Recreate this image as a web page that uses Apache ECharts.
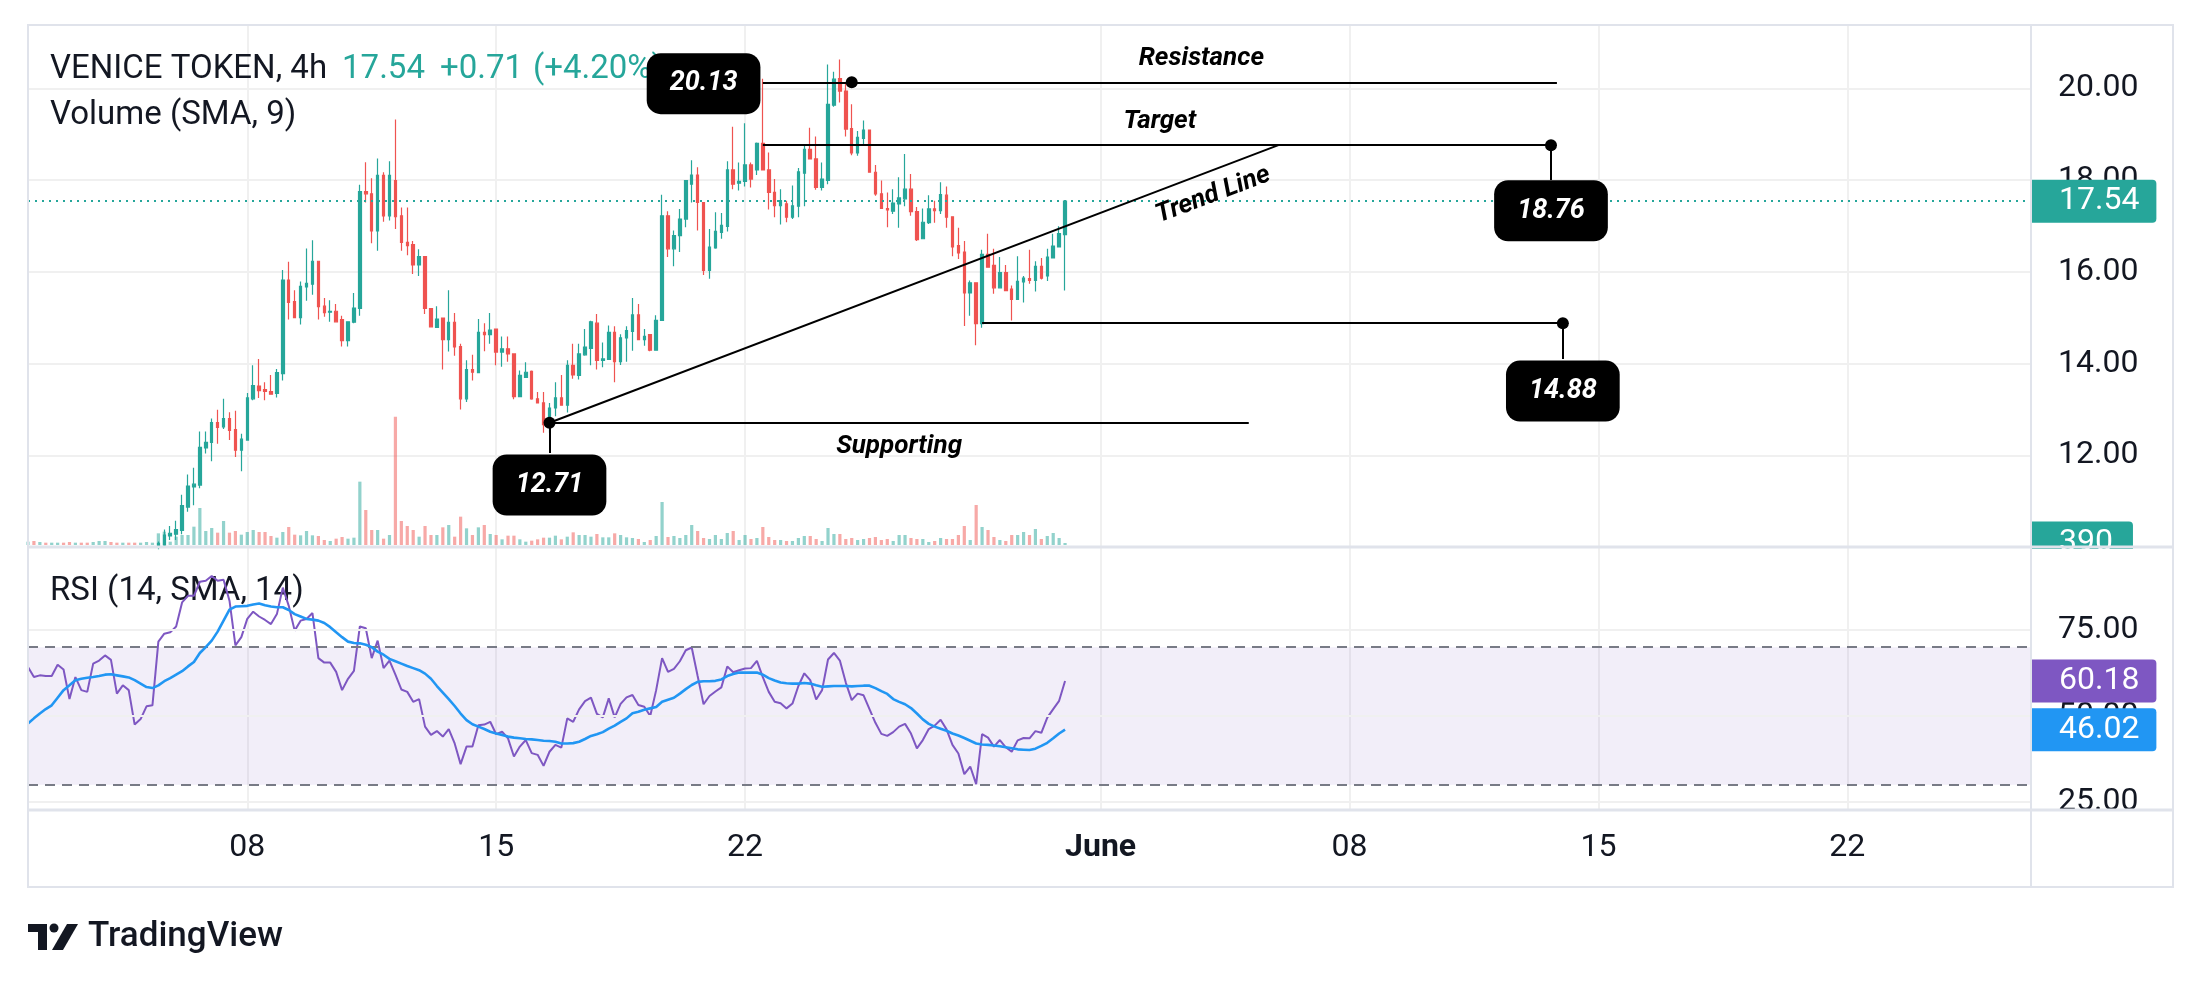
<!DOCTYPE html>
<html>
<head>
<meta charset="utf-8">
<script src="https://cdn.jsdelivr.net/npm/echarts@6/dist/echarts.min.js"></script>
<style>
html,body{margin:0;padding:0;background:#fff;}
#chart{width:2201px;height:982px;}
</style>
</head>
<body>
<div id="chart"></div>
<script>
// ---------- DATA ----------
const startTime = Date.UTC(2025, 4, 1, 20, 0);   // first 4h slot
const slotCount = 339;                             // visible 4h slots on the time axis

// candles: [open, high, low, close]
const candles = [
[9.42,9.55,9.38,9.48],[9.48,9.56,9.40,9.44],[9.44,9.57,9.41,9.50],[9.50,9.55,9.42,9.46],[9.46,9.54,9.43,9.49],
[9.49,9.58,9.45,9.52],[9.52,9.56,9.44,9.47],[9.47,9.50,9.36,9.41],[9.41,9.51,9.38,9.46],[9.46,9.49,9.40,9.43],
[9.43,9.47,9.35,9.40],[9.40,9.52,9.37,9.47],[9.47,9.62,9.44,9.56],[9.56,9.70,9.52,9.63],[9.63,9.68,9.53,9.57],
[9.57,9.61,9.50,9.54],[9.54,9.65,9.51,9.60],[9.60,9.64,9.53,9.57],[9.57,9.61,9.51,9.55],[9.55,9.67,9.52,9.62],
[9.62,9.76,9.58,9.70],[9.70,9.85,9.66,9.78],
[10.03,10.12,9.95,10.08],[10.04,10.38,10.00,10.26],[10.24,10.46,10.15,10.30],[10.28,10.57,10.15,10.38],
[10.36,11.14,10.28,10.90],[10.87,11.58,10.77,11.33],[11.31,11.73,10.91,11.37],[11.35,12.52,11.28,12.17],
[12.16,12.52,12.04,12.28],[12.28,12.80,11.87,12.71],[12.71,12.99,12.25,12.61],[12.62,13.23,12.57,12.80],
[12.80,12.94,12.33,12.54],[12.56,12.97,11.96,12.11],[12.11,12.47,11.65,12.35],[12.33,13.36,12.33,13.25],
[13.23,13.96,13.20,13.52],[13.51,14.10,13.25,13.41],[13.43,13.59,13.20,13.39],[13.39,13.75,13.32,13.33],
[13.35,13.88,13.26,13.80],[13.78,16.04,13.63,15.82],[15.82,16.22,14.96,15.33],[15.35,15.60,15.00,15.00],
[15.00,15.79,14.85,15.68],[15.67,16.51,15.37,15.75],[15.73,16.69,15.50,16.23],[16.23,16.23,14.96,15.24],
[15.25,15.43,15.02,15.11],[15.12,15.38,14.91,15.14],[15.14,15.30,14.91,14.91],[14.96,15.04,14.37,14.50],
[14.50,14.91,14.37,14.91],[14.90,15.54,14.88,15.21],[15.20,17.90,15.04,17.75],[17.75,18.39,17.51,17.70],
[17.70,18.04,16.62,16.89],[16.89,18.47,16.46,18.10],[18.10,18.17,17.09,17.22],[17.22,18.41,17.12,18.10],
[17.99,19.32,16.93,17.20],[17.22,17.40,16.46,16.64],[16.64,17.40,16.36,16.57],[16.59,16.67,15.95,16.15],
[16.15,16.49,15.91,16.33],[16.33,16.33,15.08,15.20],[15.20,15.20,14.80,14.80],[14.79,15.25,14.78,14.97],
[14.99,14.99,13.87,14.52],[14.52,15.60,14.26,14.90],[14.90,15.10,14.17,14.36],[14.37,14.43,13.00,13.23],
[13.23,14.07,13.16,13.87],[13.87,14.19,13.63,13.81],[13.80,14.97,13.80,14.68],[14.68,14.88,14.27,14.63],
[14.63,15.10,14.43,14.73],[14.75,14.75,13.96,14.25],[14.25,14.59,13.93,14.32],[14.32,14.59,14.04,14.21],
[14.21,14.21,13.22,13.28],[13.28,13.85,13.27,13.74],[13.70,14.03,13.69,13.81],[13.83,13.85,13.21,13.23],
[13.23,13.38,13.14,13.14],[13.14,13.38,12.49,12.67],[12.67,13.14,12.49,13.03],[13.03,13.59,12.85,13.25],
[13.25,13.75,13.09,13.09],[13.09,14.07,12.93,13.96],[13.96,14.43,13.67,13.75],[13.74,14.43,13.65,14.21],
[14.19,14.75,14.17,14.36],[14.33,14.93,13.96,14.91],[14.88,15.08,13.87,14.07],[14.07,14.46,13.92,14.10],
[14.09,14.83,14.09,14.68],[14.68,14.81,13.59,14.04],[14.04,14.64,13.97,14.56],[14.56,14.81,14.04,14.72],
[14.70,15.43,14.28,15.06],[15.06,15.30,14.52,14.52],[14.52,14.75,14.39,14.59],[14.63,14.63,14.27,14.29],
[14.29,15.05,14.29,14.94],[14.94,17.68,14.94,17.22],[17.22,17.32,16.32,16.50],[16.50,16.90,16.12,16.79],
[16.79,17.37,16.43,17.15],[17.15,17.99,16.97,17.99],[17.91,18.43,17.51,18.11],[18.11,18.28,16.90,17.51],
[17.51,17.51,15.93,16.03],[16.03,16.93,15.85,16.54],[16.52,17.30,16.50,16.88],[16.86,17.28,16.72,17.01],
[16.99,18.41,16.88,18.22],[18.22,19.16,17.80,17.91],[17.93,18.38,17.77,17.97],[17.97,19.24,17.86,18.33],
[18.33,18.38,17.84,18.02],[18.22,18.82,18.11,18.80],[18.80,20.21,18.22,18.22],[18.22,18.60,17.36,17.73],
[17.73,18.02,17.19,17.44],[17.44,17.80,17.03,17.55],[17.48,17.55,17.08,17.19],[17.19,17.88,17.15,17.44],
[17.43,18.26,17.19,18.18],[18.15,18.75,17.43,18.67],[18.67,19.14,18.46,18.46],[18.46,18.95,17.79,17.84],
[17.84,18.38,17.77,18.02],[17.99,20.52,17.91,19.65],[19.63,20.36,19.60,20.20],[20.21,20.63,19.69,19.94],
[19.94,20.12,18.95,19.11],[19.12,19.65,18.54,18.59],[18.59,19.07,18.53,18.93],[18.91,19.30,18.75,19.09],
[19.09,19.09,18.17,18.17],[18.17,18.33,17.66,17.70],[17.70,17.99,17.37,17.38],[17.38,17.73,16.97,17.35],
[17.32,17.80,17.26,17.50],[17.48,18.06,16.96,17.61],[17.59,18.57,17.43,17.80],[17.80,18.13,17.22,17.31],
[17.31,17.41,16.67,16.70],[16.72,17.38,16.72,17.08],[17.07,17.67,17.04,17.37],[17.37,17.55,17.07,17.33],
[17.33,17.95,17.26,17.68],[17.67,17.86,16.96,17.19],[17.20,17.20,16.34,16.54],[16.57,16.96,16.28,16.41],
[16.43,16.67,14.82,15.54],[15.54,15.81,15.04,15.76],[15.76,15.76,14.40,14.87],[14.87,16.48,14.78,16.38],
[16.38,16.83,16.09,16.10],[16.14,16.50,15.52,15.65],[15.65,16.32,15.65,15.98],[15.98,16.15,15.58,15.59],
[15.62,15.70,14.94,15.40],[15.40,16.34,15.40,15.79],[15.78,15.91,15.33,15.86],[15.85,16.48,15.74,15.81],
[15.81,16.23,15.57,16.12],[16.12,16.30,15.83,15.86],[15.91,16.50,15.80,16.32],[16.30,16.83,16.30,16.56],
[16.54,16.99,16.54,16.83],[16.81,17.54,15.59,17.54]
];

// volume per candle (thousands)
const volumes = [
650,780,585,455,455,455,455,585,455,455,455,585,780,780,585,455,455,455,455,455,585,455,
2275,2600,650,1625,1950,1950,3575,7215,2730,3315,2405,4680,2405,2730,2015,2535,2925,2535,2535,1755,
1430,2535,3510,2015,1885,2730,1885,1755,975,780,1235,1560,1235,1430,12350,6825,2925,2925,1235,1950,
25025,4680,3705,2925,1625,3705,1950,1950,3445,3900,1625,5525,3250,1950,3445,3900,2145,1950,1105,1820,
1820,1105,650,845,1105,1430,1430,1820,1105,1625,2470,1950,1950,1625,2145,1495,1495,2275,1950,1495,
1365,1170,585,975,1755,8385,1560,1755,1365,1950,3900,2730,1365,1170,1950,1170,2340,2730,975,1950,
1170,1365,3510,1560,975,975,780,780,1365,1755,1755,1170,780,3315,2145,2145,1170,1365,975,1170,
1365,1560,975,1170,780,1950,1950,1365,1170,1170,585,780,1365,1170,1170,1950,3705,975,7800,3510,
2925,1560,975,780,1950,1950,2535,1950,3120,1170,1755,2340,1365,390
];

// RSI (14) and its SMA (14)
const rsiValues = [
64.2,61.3,61.8,61.6,61.6,64.9,63.5,54.9,61.3,57.5,
57.0,65.2,66.1,67.6,66.3,56.5,58.9,57.5,47.5,49.1,
52.8,53.1,71.6,73.9,74.3,76.0,83.0,84.9,84.9,89.0,
89.3,90.7,89.3,89.6,83.5,70.5,72.9,78.2,80.3,78.9,
77.9,76.7,79.6,87.3,82.0,74.8,77.7,78.2,79.9,66.8,
65.5,65.5,62.8,57.5,60.8,63.1,76.0,75.5,66.8,71.9,
63.9,66.1,62.0,57.7,57.0,54.1,54.9,46.9,44.5,45.6,
44.0,46.2,42.0,36.0,41.1,41.1,47.3,47.5,48.3,44.7,
45.4,43.5,38.2,41.1,43.0,39.2,38.7,35.5,39.6,41.6,
40.8,49.3,48.3,51.9,54.3,55.3,50.6,49.6,55.1,49.6,
53.5,55.4,56.1,53.2,52.7,50.0,57.5,66.8,62.8,63.7,
65.9,69.1,69.9,61.6,53.4,55.8,57.1,58.3,64.4,62.7,
63.3,63.8,63.9,66.0,61.3,57.0,54.1,53.7,52.2,53.6,
58.7,62.4,60.4,54.8,57.5,66.4,68.3,66.1,59.7,54.6,
56.5,56.0,52.0,48.0,44.8,44.2,45.3,46.9,47.7,44.9,
40.6,43.0,46.2,47.2,48.9,46.1,41.6,39.1,33.1,35.3,
30.2,44.7,43.7,41.1,43.0,40.9,39.6,42.9,43.6,43.5,
45.6,45.1,49.5,52.0,54.4,60.18
];
const rsiSma = [
47.8,49.3,50.7,52.0,53.1,55.3,57.5,58.9,60.4,60.8,
61.1,61.3,61.6,62.0,62.1,61.8,61.5,61.2,60.4,59.4,
58.4,58.1,58.9,60.1,61.0,62.0,63.0,64.4,65.7,68.3,
70.0,71.9,74.5,77.7,80.9,81.8,81.9,82.0,82.4,82.7,
82.2,81.8,81.6,81.6,80.8,79.6,78.9,78.2,78.0,77.7,
77.0,75.8,74.3,72.9,71.6,71.2,71.1,70.7,70.0,68.7,
67.8,66.6,65.9,65.2,64.5,63.9,63.3,62.3,60.8,58.7,
56.8,54.9,52.9,50.7,48.8,47.6,46.9,46.2,45.4,44.9,
44.5,44.0,43.7,43.5,43.3,43.2,43.0,42.8,42.7,42.5,
42.0,42.0,42.1,42.5,43.3,44.2,44.7,45.3,46.3,47.2,
48.3,49.3,50.8,51.2,51.8,52.2,52.6,54.1,54.7,55.3,
56.5,57.8,59.0,59.9,60.1,60.1,60.2,60.6,61.6,62.2,
62.6,62.6,62.6,62.6,62.0,61.0,60.3,59.7,59.5,59.4,
59.4,59.6,59.4,58.9,58.5,58.6,58.7,58.7,58.7,58.6,
58.7,58.8,58.8,58.1,57.2,56.4,54.9,54.1,53.4,52.3,
50.7,49.0,47.7,46.9,46.3,45.7,44.9,44.3,43.6,42.8,
42.0,41.7,41.6,41.4,41.2,40.9,40.6,40.3,40.2,40.1,
40.5,41.3,42.2,43.5,44.9,46.02
];

// time-axis tick labels
const tickDates = ['2025-05-08','2025-05-15','2025-05-22','2025-06-01','2025-06-08','2025-06-15','2025-06-22'];
const tickTexts = ['08','15','22','June','08','15','22'];

// price-axis ticks
const priceTicks = [12, 14, 16, 18, 20];
const rsiTicks = [25, 50, 75];

// annotations (data coordinates: slot index, price)
const levelLines = [
  { from: [124, 20.13], to: [258, 20.13] },   // resistance
  { from: [124, 18.76], to: [257, 18.76] },   // target
  { from: [88, 12.71],  to: [211, 18.76] },   // trend line
  { from: [88, 12.71],  to: [206, 12.71] },   // supporting
  { from: [161, 14.88], to: [259, 14.88] }    // lower level
];
const pivotDots = [[139, 20.13], [257, 18.76], [259, 14.88], [88, 12.71]];
const connectors = [
  { from: [88, 12.71], to: [88, 12.05] },
  { from: [257, 18.76], to: [257, 18.0] },
  { from: [259, 14.88], to: [259, 14.1] }
];
const priceBoxes = [
  { text: '20.13', at: [114, 20.10] },
  { text: '18.76', at: [257, 17.33] },
  { text: '14.88', at: [259, 13.40] },
  { text: '12.71', at: [88, 11.35] }
];
const textNotes = [
  { text: 'Resistance', at: [198, 20.64], rotate: 0 },
  { text: 'Target', at: [191, 19.27], rotate: 0 },
  { text: 'Trend Line', at: [200, 17.67], rotate: 20.8 },
  { text: 'Supporting', at: [147, 12.20], rotate: 0 }
];

const lastPrice = 17.54, lastVolume = 390, lastRsi = 60.18, lastRsiSma = 46.02;

// ---------- BUILD ----------
const FOUR_H = 4 * 3600 * 1000;
const categories = [];
for (let i = 0; i < slotCount; i++) {
  categories.push(new Date(startTime + i * FOUR_H).toISOString().slice(0, 16));
}
const tickTextByCat = {};
tickDates.forEach((d, k) => { tickTextByCat[d + 'T00:00'] = tickTexts[k]; });
const isTick = (idx) => tickTextByCat[categories[idx]] !== undefined;

const UP = '#26a69a', DOWN = '#ef5350';
const FONT = 'Roboto';
const candleData = candles.map(c => [c[0], c[3], c[2], c[1]]);
const volumeData = volumes.map((v, i) => ({
  value: v,
  itemStyle: { color: candles[i][3] >= candles[i][0] ? 'rgba(38,166,154,0.5)' : 'rgba(239,83,80,0.5)' }
}));

const gridColor = '#f0f0f0';
const xBase = (gridIndex, showLabels) => ({
  type: 'category', gridIndex, data: categories, boundaryGap: false,
  axisLine: { show: false }, axisTick: { show: false },
  axisLabel: showLabels ? {
    show: true, interval: (i) => isTick(i), margin: 22,
    fontSize: 32, fontFamily: FONT, color: '#131722',
    formatter: (v) => { const t = tickTextByCat[v]; return t === 'June' ? '{b|June}' : (t || ''); },
    rich: { b: { fontSize: 32, fontFamily: FONT, fontWeight: 'bold', color: '#131722' } }
  } : { show: false },
  splitLine: gridIndex === 1 ? { show: false } : { show: true, interval: (i) => isTick(i), lineStyle: { color: gridColor, width: 2 } }
});

const hiddenLine = { color: 'transparent', width: 0 };
const sideLabel = (bg, text, padR) => ({
  show: true, position: 'end', distance: 0, formatter: text,
  backgroundColor: bg, color: '#fff', fontSize: 32, fontFamily: FONT,
  padding: [5, padR, 4, 28], borderRadius: [0, 4, 4, 0], lineHeight: 34
});

const clearItem = { color: 'rgba(0,0,0,0)', opacity: 1 };
const annotationItems = [];
pivotDots.forEach(p => annotationItems.push({ value: p, symbol: 'circle', symbolSize: 12, itemStyle: { color: '#000', opacity: 1 }, label: { show: false } }));
priceBoxes.forEach(b => annotationItems.push({
  value: b.at, symbol: 'circle', symbolSize: 1, itemStyle: clearItem,
  label: { show: true, position: 'inside', formatter: b.text, color: '#fff', backgroundColor: '#000', opacity: 1,
    fontSize: 27, fontWeight: 'bold', fontStyle: 'italic', fontFamily: FONT,
    padding: [15, 23, 14, 23], borderRadius: 14, lineHeight: 32 }
}));
textNotes.forEach(t => annotationItems.push({
  value: t.at, symbol: 'circle', symbolSize: 1, itemStyle: clearItem,
  label: { show: true, position: 'inside', formatter: t.text, color: '#000', rotate: t.rotate, opacity: 1,
    fontSize: 26, fontWeight: 'bold', fontStyle: 'italic', fontFamily: FONT }
}));

const lineSegs = levelLines.concat(connectors).map(s => [{ coord: s.from }, { coord: s.to }]);

const titleStyle = { fontSize: 33, fontFamily: FONT, color: '#131722', fontWeight: 'normal', lineHeight: 38 };
const option = {
  animation: false,
  backgroundColor: '#ffffff',
  title: [
    { left: 50, top: 51, padding: 0, z: 1,
      text: '{a|VENICE TOKEN, 4h}   {b|' + lastPrice.toFixed(2) + '}   {b|+0.71}  {b|(+4.20%)}',
      textStyle: { rich: {
        a: titleStyle,
        b: Object.assign({}, titleStyle, { color: UP }) } } },
    { left: 50, top: 97, padding: 0, z: 1, text: 'Volume (SMA, 9)', textStyle: titleStyle },
    { left: 50, top: 573, padding: 0, z: 1, text: 'RSI (14, SMA, 14)', textStyle: titleStyle }
  ],
  grid: [
    { left: 28, top: 25, width: 2003, height: 522 },
    { left: 28, top: 25, width: 2003, height: 520 },
    { left: 28, top: 547, width: 2003, height: 263 }
  ],
  xAxis: [xBase(0, false), xBase(1, false), xBase(2, true)],
  yAxis: [
    { type: 'value', gridIndex: 0, position: 'right', min: 10, max: 21.38, interval: 2,
      axisLine: { show: false }, axisTick: { show: false },
      axisLabel: { margin: 27, fontSize: 32, fontFamily: FONT, color: '#131722',
        formatter: (v) => priceTicks.some(t => Math.abs(t - v) < 1e-6) ? v.toFixed(2) : '' },
      splitLine: { show: true, lineStyle: { color: gridColor, width: 2 } } },
    { type: 'value', gridIndex: 1, min: 0, max: 101400, show: false, splitLine: { show: false } },
    { type: 'value', gridIndex: 2, position: 'right', min: 22.67, max: 99.1,
      axisLine: { show: false }, axisTick: { show: false },
      axisLabel: { customValues: rsiTicks, margin: 27, fontSize: 32, fontFamily: FONT, color: '#131722',
        formatter: (v) => Number(v).toFixed(2) },
      splitLine: { show: false } }
  ],
  series: [
    { type: 'bar', name: 'Volume', xAxisIndex: 1, yAxisIndex: 1, data: volumeData, barWidth: 3.2, z: 1,
      markLine: { silent: true, symbol: ['none', 'none'], lineStyle: hiddenLine,
        data: [{ yAxis: lastVolume, lineStyle: hiddenLine, label: sideLabel(UP, String(lastVolume), 20) }] } },
    { type: 'candlestick', name: 'VENICE TOKEN', xAxisIndex: 0, yAxisIndex: 0, data: candleData, barWidth: 3, clip: true, z: 3,
      itemStyle: { color: UP, color0: DOWN, borderColor: UP, borderColor0: DOWN, borderWidth: 1.2 },
      markLine: { silent: true, symbol: ['none', 'none'],
        lineStyle: { color: UP, type: [2, 5], width: 2 },
        data: [{ yAxis: lastPrice, label: sideLabel(UP, lastPrice.toFixed(2), 17) }] } },
    { type: 'line', name: 'RSI', xAxisIndex: 2, yAxisIndex: 2, data: rsiValues, symbol: 'none', z: 4,
      lineStyle: { color: '#7e57c2', width: 2 }, itemStyle: { color: '#7e57c2' },
      markArea: { silent: true, itemStyle: { color: 'rgba(126,87,194,0.1)' }, data: [[{ yAxis: 30 }, { yAxis: 70 }]] },
      markLine: { silent: true, symbol: ['none', 'none'], label: { show: false },
        data: rsiTicks.map(t => ({ yAxis: t, lineStyle: { color: gridColor, width: 2, type: 'solid' }, label: { show: false } }))
          .concat([
            { yAxis: 70, lineStyle: { color: '#787b86', width: 2, type: [10, 7] }, label: { show: false } },
            { yAxis: 30, lineStyle: { color: '#787b86', width: 2, type: [10, 7] }, label: { show: false } },
            { yAxis: lastRsi, lineStyle: hiddenLine, label: sideLabel('#7e57c2', lastRsi.toFixed(2), 17) }
          ]) } },
    { type: 'line', name: 'RSI SMA', xAxisIndex: 2, yAxisIndex: 2, data: rsiSma, symbol: 'none', z: 5,
      lineStyle: { color: '#2196f3', width: 2.6 }, itemStyle: { color: '#2196f3' },
      markLine: { silent: true, symbol: ['none', 'none'], lineStyle: hiddenLine,
        data: [{ yAxis: lastRsiSma, lineStyle: hiddenLine, label: sideLabel('#2196f3', lastRsiSma.toFixed(2), 17) }] } },
    { type: 'scatter', name: 'Annotations', xAxisIndex: 0, yAxisIndex: 0, z: 10, data: annotationItems,
      itemStyle: { opacity: 1 },
      markLine: { silent: true, symbol: ['none', 'none'], label: { show: false },
        lineStyle: { color: '#000', width: 2, type: 'solid' }, data: lineSegs } }
  ],
  graphic: [
    { type: 'rect', silent: true, z: 40, shape: { x: 2029, y: 549, width: 143, height: 30 }, style: { fill: '#fff' } },
    { type: 'rect', silent: true, z: 40, shape: { x: 2029, y: 811, width: 143, height: 24 }, style: { fill: '#fff' } },
    { type: 'rect', silent: true, z: 50, shape: { x: 28, y: 25, width: 2145, height: 862 }, style: { fill: 'none', stroke: '#e0e3eb', lineWidth: 2 } },
    { type: 'line', silent: true, z: 50, shape: { x1: 28, y1: 547, x2: 2173, y2: 547 }, style: { stroke: '#e0e3eb', lineWidth: 3 } },
    { type: 'line', silent: true, z: 50, shape: { x1: 28, y1: 810, x2: 2173, y2: 810 }, style: { stroke: '#e0e3eb', lineWidth: 3 } },
    { type: 'line', silent: true, z: 50, shape: { x1: 2031, y1: 25, x2: 2031, y2: 887 }, style: { stroke: '#e0e3eb', lineWidth: 2 } },
    { type: 'rect', silent: true, z: 50, shape: { x: 28, y: 924, width: 19, height: 8 }, style: { fill: '#131722' } },
    { type: 'rect', silent: true, z: 50, shape: { x: 38, y: 924, width: 9, height: 26 }, style: { fill: '#131722' } },
    { type: 'circle', silent: true, z: 50, shape: { cx: 54, cy: 928, r: 4.5 }, style: { fill: '#131722' } },
    { type: 'polygon', silent: true, z: 50, shape: { points: [[52, 950], [63, 950], [78, 924], [67, 924]] }, style: { fill: '#131722' } },
    { type: 'text', silent: true, z: 50, style: { text: 'TradingView', x: 88, y: 937, fill: '#131722', font: '500 35px Roboto', textVerticalAlign: 'middle' } }
  ]
};

const chart = echarts.init(document.getElementById('chart'), null, { renderer: 'canvas', width: 2201, height: 982 });
chart.setOption(option);
</script>
</body>
</html>
